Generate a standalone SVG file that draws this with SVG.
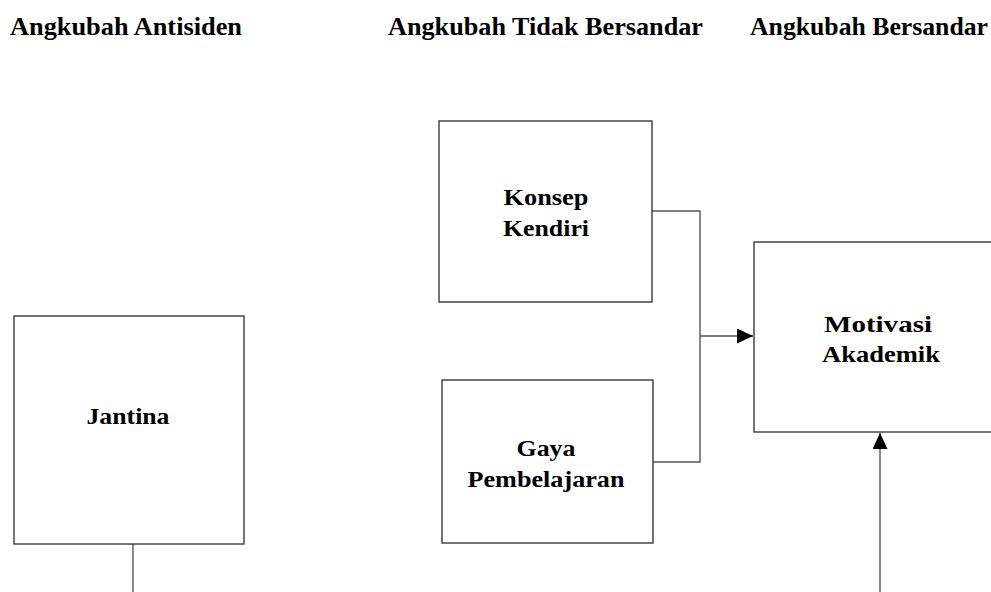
<svg xmlns="http://www.w3.org/2000/svg" width="991" height="592" viewBox="0 0 991 592">
<style>
.box{fill:#fff;stroke:#3a3a3a;stroke-width:1.4}
.hdr{font-family:'Liberation Serif','DejaVu Serif',serif;font-weight:700;font-size:25px;fill:#000}
.lbl{font-family:'Liberation Serif','DejaVu Serif',serif;font-weight:700;font-size:23px;fill:#000;text-anchor:middle}
.con{fill:none;stroke:#555;stroke-width:1.4}
</style>
<defs>
<marker id="ah" markerUnits="userSpaceOnUse" markerWidth="16" markerHeight="15" refX="16" refY="7.5" orient="auto">
<path d="M0,0 L16,7.5 L0,15 z" fill="#000"/>
</marker>
</defs>
<g id="headers">
<text class="hdr" x="10" y="35" textLength="232" lengthAdjust="spacingAndGlyphs">Angkubah Antisiden</text>
<text class="hdr" x="388" y="35" textLength="315" lengthAdjust="spacingAndGlyphs">Angkubah Tidak Bersandar</text>
<text class="hdr" x="750" y="35" textLength="238" lengthAdjust="spacingAndGlyphs">Angkubah Bersandar</text>
</g>
<g id="connectors">
<path class="con" d="M652,211 H700 V462 H653"/>
<line class="con" x1="700" y1="336" x2="753" y2="336" marker-end="url(#ah)"/>
<line class="con" x1="880" y1="592" x2="880" y2="433" marker-end="url(#ah)"/>
<line class="con" x1="133" y1="544" x2="133" y2="592"/>
</g>
<g id="jantina">
<rect class="box" x="14" y="316" width="230" height="228"/>
<text class="lbl" x="128" y="424" textLength="83" lengthAdjust="spacingAndGlyphs">Jantina</text>
</g>
<g id="konsep-kendiri">
<rect class="box" x="439" y="121" width="213" height="181"/>
<text class="lbl" x="546" y="205" textLength="85" lengthAdjust="spacingAndGlyphs">Konsep</text>
<text class="lbl" x="546" y="236" textLength="86" lengthAdjust="spacingAndGlyphs">Kendiri</text>
</g>
<g id="gaya-pembelajaran">
<rect class="box" x="442" y="380" width="211" height="163"/>
<text class="lbl" x="546" y="456" textLength="59" lengthAdjust="spacingAndGlyphs">Gaya</text>
<text class="lbl" x="546" y="487" textLength="157" lengthAdjust="spacingAndGlyphs">Pembelajaran</text>
</g>
<g id="motivasi-akademik">
<rect class="box" x="754" y="242" width="250" height="190"/>
<text class="lbl" x="878" y="332" textLength="108" lengthAdjust="spacingAndGlyphs">Motivasi</text>
<text class="lbl" x="881" y="362" textLength="118" lengthAdjust="spacingAndGlyphs">Akademik</text>
</g>
</svg>
